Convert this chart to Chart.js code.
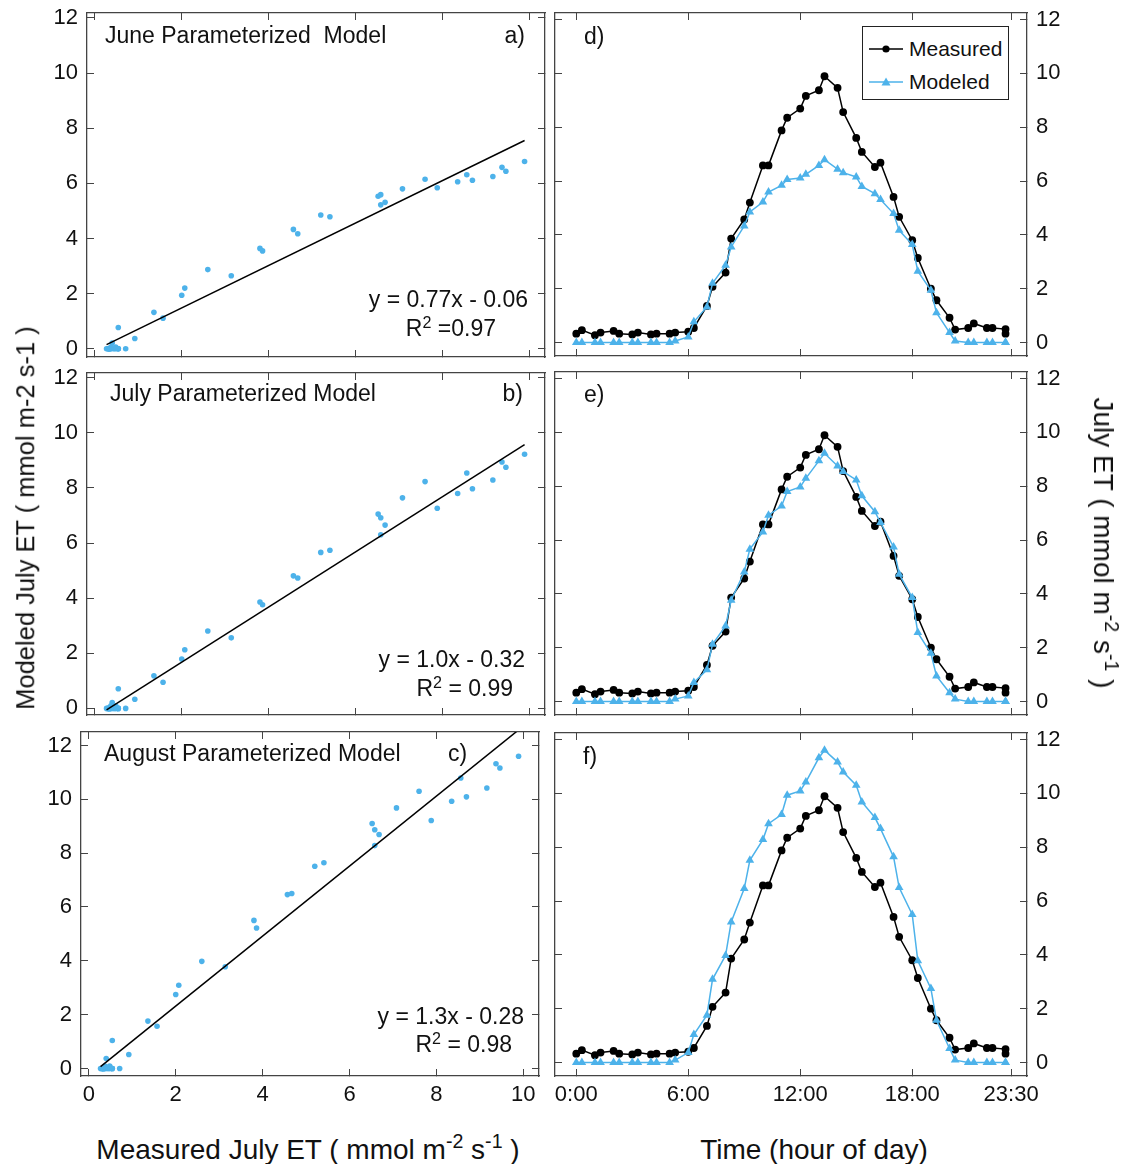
<!DOCTYPE html>
<html>
<head>
<meta charset="utf-8">
<script src="https://cdn.jsdelivr.net/npm/chart.js@4.4.1/dist/chart.umd.min.js"></script>
<style>
  body { margin: 0; background: #fff; width: 1129px; height: 1164px; position: relative; overflow: hidden;
         font-family: "Liberation Sans", Arial, sans-serif; color: #111; }
  canvas { position: absolute; }
  .t { position: absolute; white-space: pre; line-height: 1; }
  .sup { font-size: 0.7em; position: relative; top: -0.55em; }
  #legend { position: absolute; left: 862px; top: 26px; width: 145px; height: 72px; border: 1.5px solid #222;
            background: #fff; font-size: 21px; }
  #legend div { position: absolute; left: 6px; height: 24px; display: flex; align-items: center; }
  #legend svg { margin-right: 4px; }
</style>
</head>
<body>
<div id="legend">
  <div style="top:10px"><svg width="36" height="14"><line x1="0" y1="7" x2="34" y2="7" stroke="#000" stroke-width="1.5"/><circle cx="17" cy="7" r="3.6" fill="#000"/></svg>Measured</div>
  <div style="top:43px"><svg width="36" height="14"><line x1="0" y1="7" x2="34" y2="7" stroke="#4db2ea" stroke-width="1.5"/><polygon points="17,2.5 21.5,10.5 12.5,10.5" fill="#4db2ea"/></svg>Modeled</div>
</div>
<script>
// time of day, coded as hour.minutes (0.3 = 0:30)
var hourCodes = [0, 0.3, 1, 1.3, 2, 2.3, 3, 3.3, 4, 4.3, 5, 5.3, 6, 6.3, 7, 7.3, 8, 8.3, 9, 9.3,
                 10, 10.3, 11, 11.3, 12, 12.3, 13, 13.3, 14, 14.3, 15, 15.3, 16, 16.3, 17, 17.3,
                 18, 18.3, 19, 19.3, 20, 20.3, 21, 21.3, 22, 22.3, 23, 23];

var measured = [0.33, 0.46, 0.27, 0.37, 0.43, 0.33, 0.30, 0.37, 0.30, 0.33, 0.33, 0.37, 0.40, 0.54,
                1.36, 2.07, 2.60, 3.86, 4.57, 5.20, 6.58, 6.58, 7.88, 8.35, 8.69, 9.16, 9.37, 9.89,
                9.46, 8.56, 7.60, 7.08, 6.52, 6.68, 5.41, 4.67, 3.80, 3.14, 2.00, 1.57, 0.92, 0.48,
                0.54, 0.71, 0.54, 0.54, 0.50, 0.33];

var modeledJune = [0, 0, 0, 0, 0, 0, 0, 0, 0, 0, 0, 0.06, 0.21, 0.77, 1.32, 2.20, 2.87, 3.55, 4.33,
                   4.85, 5.22, 5.59, 5.84, 6.06, 6.11, 6.25, 6.58, 6.79, 6.44, 6.31, 6.15, 5.80, 5.53,
                   5.31, 4.79, 4.17, 3.64, 2.65, 1.94, 1.11, 0.37, 0.06, 0, 0, 0, 0, 0, 0];

var modeledJuly = [0, 0, 0, 0, 0, 0, 0, 0, 0, 0, 0, 0.09, 0.21, 0.71, 1.18, 2.13, 2.81, 3.76, 4.81,
                   5.66, 6.30, 6.92, 7.26, 7.80, 7.97, 8.29, 8.94, 9.22, 8.75, 8.54, 8.23, 7.64, 7.05,
                   6.65, 5.74, 4.73, 3.86, 2.56, 1.79, 0.95, 0.33, 0.09, 0, 0, 0, 0, 0, 0];

var modeledAugust = [0, 0, 0, 0, 0, 0, 0, 0, 0, 0, 0, 0.09, 0.37, 1.04, 1.76, 3.09, 3.98, 5.22, 6.46,
                     7.51, 8.28, 8.87, 9.21, 9.93, 10.09, 10.42, 11.32, 11.60, 11.16, 10.79, 10.30, 9.68,
                     9.10, 8.69, 7.64, 6.50, 5.50, 3.78, 2.75, 1.57, 0.52, 0.09, 0, 0, 0, 0, 0, 0];

// regression line [slope, intercept]
var fitJune = [0.77, -0.06];
var fitJuly = [1.0, -0.32];
var fitAugust = [1.3, -0.28];

var etTicks = [0, 2, 4, 6, 8, 10, 12];
var measuredTicks = [0, 2, 4, 6, 8, 10];
var timeTicks = [0, 6, 12, 18, 23.3];
var timeTickLabels = ['0:00', '6:00', '12:00', '18:00', '23:30'];

var BLUE = '#4db2ea';
var FRAME = '#444';
var tickFont = { family: '"Liberation Sans", Arial, sans-serif', size: 22 };

function axis(pos, min, max, vals, size, showLabels, fmt) {
    var horiz = pos === 'top' || pos === 'bottom';
    return {
        type: 'linear',
        axis: horiz ? 'x' : 'y',
        position: pos,
        min: min,
        max: max,
        afterBuildTicks: function (s) { s.ticks = vals.map(function (v) { return { value: v }; }); },
        afterFit: function (s) {
            if (horiz) s.height = size; else s.width = size;
            // labels may overhang the plot box, keep the box where it is
            s.paddingTop = s.paddingBottom = s.paddingLeft = s.paddingRight = 0;
        },
        grid: { drawOnChartArea: false, drawTicks: true, tickLength: -7, color: FRAME, lineWidth: 1 },
        border: { display: true, color: FRAME, width: 1.3 },
        ticks: {
            display: showLabels, font: tickFont, color: '#111', autoSkip: false, maxRotation: 0,
            padding: horiz ? 13 : 16,
            callback: fmt || function (v) { return v; }
        }
    };
}

function makeCanvas(left, top, w, h) {
    var c = document.createElement('canvas');
    c.width = w; c.height = h;
    c.style.left = left + 'px'; c.style.top = top + 'px';
    c.style.width = w + 'px'; c.style.height = h + 'px';
    document.body.appendChild(c);
    return c;
}

var baseOptions = {
    responsive: false,
    animation: false,
    layout: { padding: 0 },
    plugins: { legend: { display: false }, tooltip: { enabled: false } }
};

function buildScatter(box, modeled, fit, sizes, showX, yRange) {
    var canvas = makeCanvas(box[0], box[1], box[2], box[3]);
    var pts = measured.map(function (m, i) { return { x: m, y: modeled[i] }; });
    var x0 = Math.min.apply(null, measured), x1 = Math.max.apply(null, measured);
    var xr = [-0.18, 10.36];
    new Chart(canvas, {
        type: 'scatter',
        data: {
            datasets: [{
                type: 'line',
                data: [{ x: x0, y: fit[0] * x0 + fit[1] }, { x: x1, y: fit[0] * x1 + fit[1] }],
                borderColor: '#000', borderWidth: 1.5, pointRadius: 0, showLine: true
            }, {
                data: pts,
                backgroundColor: BLUE, borderWidth: 0, pointRadius: 2.8
            }]
        },
        options: Object.assign({}, baseOptions, {
            scales: {
                x: axis('bottom', xr[0], xr[1], measuredTicks, sizes[3], showX),
                x2: axis('top', xr[0], xr[1], measuredTicks, sizes[2], false),
                y: axis('left', yRange[0], yRange[1], etTicks, sizes[0], true),
                y2: axis('right', yRange[0], yRange[1], etTicks, sizes[1], false)
            }
        })
    });
}

function buildTime(box, modeled, sizes, showX) {
    var canvas = makeCanvas(box[0], box[1], box[2], box[3]);
    var yr = [-0.5, 12.24];
    var xr = [-1.14, 24.15];
    var fmt = function (v) { return timeTickLabels[timeTicks.indexOf(v)]; };
    new Chart(canvas, {
        type: 'line',
        data: {
            datasets: [{
                label: 'Modeled',
                data: hourCodes.map(function (h, i) { return { x: h, y: modeled[i] }; }),
                borderColor: BLUE, backgroundColor: BLUE, borderWidth: 1.5,
                pointStyle: 'triangle', pointRadius: 5, pointBorderWidth: 0, tension: 0
            }, {
                label: 'Measured',
                data: hourCodes.map(function (h, i) { return { x: h, y: measured[i] }; }),
                borderColor: '#000', backgroundColor: '#000', borderWidth: 1.5,
                pointStyle: 'circle', pointRadius: 3.9, pointBorderWidth: 0, tension: 0
            }]
        },
        options: Object.assign({}, baseOptions, {
            scales: {
                x: axis('bottom', xr[0], xr[1], timeTicks, sizes[3], showX, fmt),
                x2: axis('top', xr[0], xr[1], timeTicks, sizes[2], false),
                y: axis('left', yr[0], yr[1], etTicks, sizes[0], false),
                y2: axis('right', yr[0], yr[1], etTicks, sizes[1], true)
            }
        })
    });
}

// sizes: [left, right, top, bottom] axis thickness
buildScatter([0, 0, 550, 364], modeledJune, fitJune, [87, 5, 13, 7], false, [-0.3, 12.18]);
buildScatter([0, 364, 550, 360], modeledJuly, fitJuly, [87, 5, 9, 9], false, [-0.24, 12.17]);
buildScatter([0, 724, 550, 396], modeledAugust, fitAugust, [81, 11, 8, 44], true, [-0.28, 12.5]);
buildTime([550, 0, 540, 364], modeledJune, [4, 63, 13, 8], false);
buildTime([550, 364, 540, 360], modeledJuly, [4, 63, 8, 9], false);
buildTime([550, 724, 540, 396], modeledAugust, [5, 63, 9, 44], true);

function addText(html, x, baseline, size, align) {
    var d = document.createElement('div');
    d.className = 't';
    d.innerHTML = html;
    d.style.fontSize = size + 'px';
    d.style.top = (baseline - 0.85 * size) + 'px';
    if (align === 'right') d.style.right = (1129 - x) + 'px';
    else if (align === 'center') { d.style.left = x + 'px'; d.style.transform = 'translateX(-50%)'; }
    else d.style.left = x + 'px';
    document.body.appendChild(d);
}

function addRotated(html, cx, cy, size, deg) {
    var d = document.createElement('div');
    d.className = 't';
    d.innerHTML = html;
    d.style.fontSize = size + 'px';
    d.style.left = cx + 'px';
    d.style.top = cy + 'px';
    d.style.transform = 'translate(-50%, -50%) rotate(' + deg + 'deg)';
    document.body.appendChild(d);
}

addText('June Parameterized  Model', 105, 44, 23);
addText('a)', 525, 44, 23, 'right');
addText('y = 0.77x - 0.06', 528, 308, 23, 'right');
addText('R<span class="sup">2</span> =0.97', 496, 337, 23, 'right');

addText('July Parameterized Model', 110, 402, 23);
addText('b)', 523, 402, 23, 'right');
addText('y = 1.0x - 0.32', 525, 668, 23, 'right');
addText('R<span class="sup">2</span> = 0.99', 513, 697, 23, 'right');

addText('August Parameterized Model', 104, 762, 23);
addText('c)', 448, 762, 23);
addText('y = 1.3x - 0.28', 524, 1025, 23, 'right');
addText('R<span class="sup">2</span> = 0.98', 512, 1053, 23, 'right');

addText('d)', 584, 45, 23);
addText('e)', 584, 403, 23);
addText('f)', 583, 765, 23);

addText('Measured July ET ( mmol m<span class="sup">-2</span> s<span class="sup">-1</span> )', 308, 1160, 28, 'center');
addText('Time (hour of day)', 814, 1160, 28, 'center');
addRotated('Modeled July ET ( mmol m-2 s-1 )', 26, 518, 25.5, -90);
addRotated('July ET ( mmol m<span class="sup">-2</span> s<span class="sup">-1</span> )', 1103, 543, 28, 90);
</script>
</body>
</html>
